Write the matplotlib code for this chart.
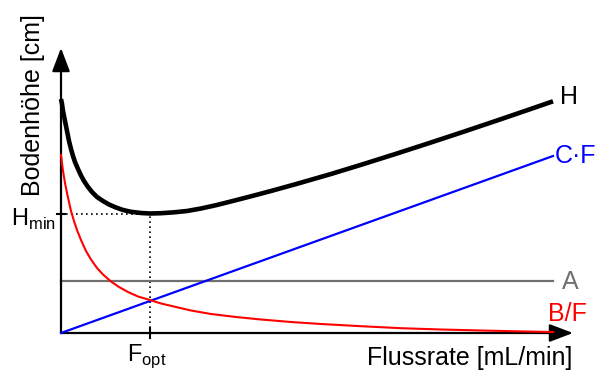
import matplotlib.pyplot as plt

plt.rcParams['font.family'] = ['Liberation Sans', 'DejaVu Sans']

# values (flow rate F, plate height), arbitrary units
F_bf = [0, 2, 4, 6, 8, 10, 13, 16, 20, 25, 30, 36, 42, 50, 58, 67, 77, 89, 100, 115, 130, 150,
        175, 200, 230, 260, 300, 340, 380, 420, 460, 492]
bf = [178, 162, 150, 140, 131, 122, 112, 103, 93, 82, 73.5, 65, 58.5, 51.5, 46, 41, 36.5, 33, 29.5,
      26, 22.5, 19, 16, 13.5, 11, 9, 6.8, 4.8, 3.5, 2.5, 1.6, 1]

F_h = [0, 1, 2, 3, 4, 6, 8, 10, 12, 14, 17, 20, 23, 27, 31, 36, 42, 48, 55, 62, 70, 80, 89, 100,
       112, 126, 140, 155, 169, 190, 210, 236, 270, 302, 335, 369, 400, 436, 465, 492]
h = [234, 229, 222, 217, 212, 202, 192, 184, 177, 171, 164, 157.5, 152, 146, 141, 136, 132, 128.5,
     125.5, 123, 121.2, 120, 119.5, 119.8, 120.6, 122, 124.5, 127.8, 131.3, 136.7, 142, 149.2, 159,
     168.8, 179.2, 190.2, 200.4, 212.5, 222.4, 231.7]

F_cf = [0, 492]
cf = [0, 177]

F_a = [0, 492]
a = [52, 52]

F_opt = 89
H_min = 119.5

fig = plt.figure(figsize=(5.95, 3.70), dpi=100)
ax = fig.add_axes([0, 0, 1, 1])
ax.set_xlim(-61, 534)
ax.set_ylim(-37, 333)
ax.axis('off')

# axes with arrow heads
arrow = dict(arrowstyle='-|>,head_length=1,head_width=0.38', lw=1.6, color='k',
             shrinkA=0, shrinkB=0, mutation_scale=14.4)
ax.annotate('', xy=(512, 0), xytext=(0, 0), arrowprops=arrow)
ax.annotate('', xy=(0, 285), xytext=(0, 0), arrowprops=arrow)

# curves
ax.plot(F_a, a, color='#707070', lw=1.6, zorder=2)
ax.plot(F_cf, cf, color='#0000ff', lw=1.6, zorder=3)
ax.plot(F_bf, bf, color='#ff0000', lw=1.5, zorder=4)
ax.plot(F_h, h, color='k', lw=3.3, zorder=5, solid_capstyle='butt', solid_joinstyle='round')

# optimum markers
ax.plot([0, F_opt], [H_min, H_min], color='k', lw=1.2, ls=(0, (1, 2)), zorder=1)
ax.plot([F_opt, F_opt], [0, H_min], color='k', lw=1.2, ls=(0, (1, 2)), zorder=1)
ax.plot([-4, 4], [H_min, H_min], color='k', lw=1.5)
ax.plot([F_opt, F_opt], [-5, 5], color='k', lw=1.5)

fs = 18
ax.text(499, 236, 'H', fontsize=fs, color='k', ha='left', va='center')
ax.text(494, 177, 'C·F', fontsize=fs, color='#0000ff', ha='left', va='center')
ax.text(501, 51, 'A', fontsize=fs, color='#707070', ha='left', va='center')
ax.text(487, 19, 'B/F', fontsize=fs, color='#ff0000', ha='left', va='center')

ax.text(511, -32, 'Flussrate [mL/min]', fontsize=fs, ha='right', va='baseline')
ax.text(-21, 228, 'Bodenhöhe [cm]', fontsize=fs, rotation=90, rotation_mode='anchor',
        ha='center', va='baseline')
ax.text(-5, 107, r'H$_\mathregular{min}$', fontsize=17, ha='right', va='baseline')
ax.text(86, -28, r'F$_\mathregular{opt}$', fontsize=17, ha='center', va='baseline')

fig.savefig('out.png', dpi=100)
